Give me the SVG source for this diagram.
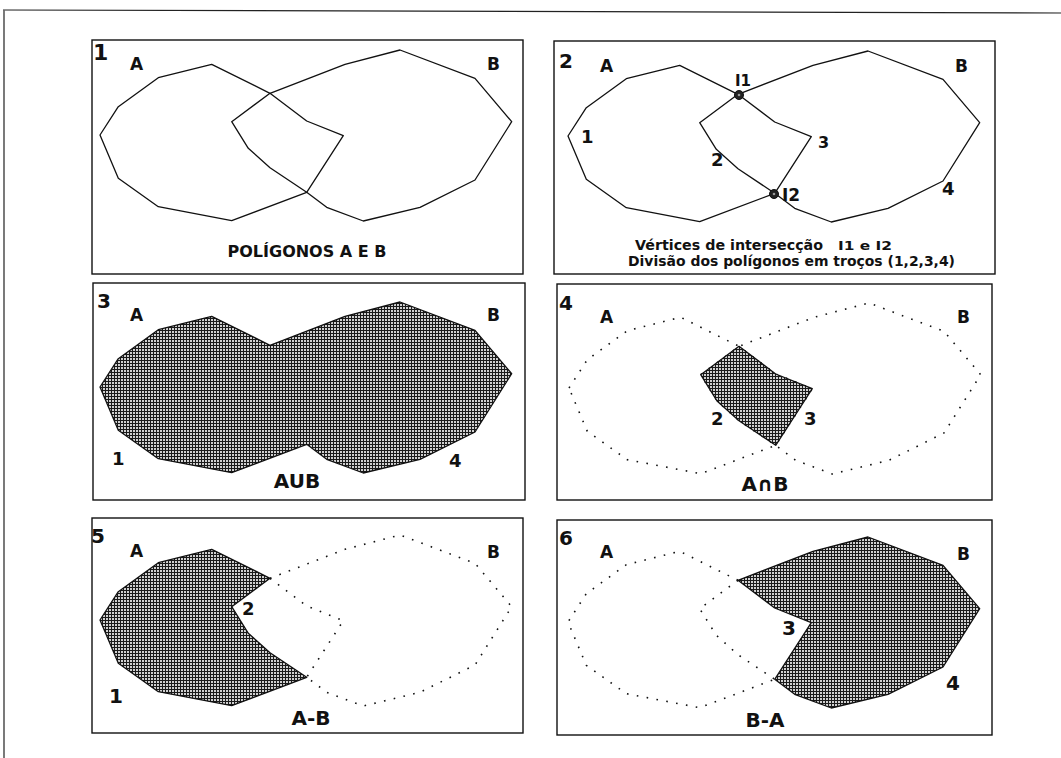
<svg xmlns="http://www.w3.org/2000/svg" xmlns:xlink="http://www.w3.org/1999/xlink" width="1061" height="758" viewBox="0 0 1061 758">
<style>
.frame{fill:none;stroke:#222;stroke-width:1.2}
.box{fill:#fff;stroke:#111;stroke-width:1.4}
.ln{fill:none;stroke:#111;stroke-width:1.3;stroke-linejoin:round}
.dot{fill:none;stroke:#111;stroke-width:1.6;stroke-dasharray:1.6 8.4}
.sh{fill:url(#hatch);stroke:#111;stroke-width:1.3;stroke-linejoin:round}
text{font-family:"DejaVu Sans","Liberation Sans",sans-serif;font-weight:bold;fill:#111}
.pn{font-size:20px}
.ab{font-size:17px}
.nm{font-size:18px}
.res{font-size:20px;text-anchor:middle}
.cap{font-size:16px;text-anchor:middle}
.cap2{font-size:14px}
</style>
<defs>
<pattern id="hatch" width="3" height="3" patternUnits="userSpaceOnUse">
<rect width="3" height="3" fill="#1a1a1a"/>
<rect x="1" y="1" width="2" height="2" fill="#d0d0d0"/>
</pattern>
<polygon id="pA" points="100,135 118.3,106.7 158.3,77.7 211.7,64.3 270,93.3 306.7,121 343.3,135.7 306.7,192.3 231.7,220.7 158.3,206.7 118.3,178.3"/>
<polygon id="pB" points="231.7,121.7 270,93.3 345,64.3 400,50 475,78.3 511.7,121.7 475,180 420,207.3 363.3,221 326.7,207.3 306.7,192.3 270,167.7 248.3,148.3"/>
<polygon id="pU" points="270,93.3 345,64.3 400,50 475,78.3 511.7,121.7 475,180 420,207.3 363.3,221 326.7,207.3 306.7,192.3 231.7,220.7 158.3,206.7 118.3,178.3 100,135 118.3,106.7 158.3,77.7 211.7,64.3"/>
<polygon id="pI" points="270,93.3 231.7,121.7 248.3,148.3 270,167.7 306.7,192.3 343.3,135.7 306.7,121"/>
<polygon id="pAmB" points="270,93.3 231.7,121.7 248.3,148.3 270,167.7 306.7,192.3 231.7,220.7 158.3,206.7 118.3,178.3 100,135 118.3,106.7 158.3,77.7 211.7,64.3"/>
<polygon id="pBmA" points="270,93.3 345,64.3 400,50 475,78.3 511.7,121.7 475,180 420,207.3 363.3,221 326.7,207.3 306.7,192.3 343.3,135.7 306.7,121"/>
<polyline id="lBout" points="270,93.3 345,64.3 400,50 475,78.3 511.7,121.7 475,180 420,207.3 363.3,221 326.7,207.3 306.7,192.3"/>
<polyline id="lAin" points="270,93.3 306.7,121 343.3,135.7 306.7,192.3"/>
<polyline id="lAout" points="270,93.3 211.7,64.3 158.3,77.7 118.3,106.7 100,135 118.3,178.3 158.3,206.7 231.7,220.7 306.7,192.3"/>
<polyline id="lBin" points="270,93.3 231.7,121.7 248.3,148.3 270,167.7 306.7,192.3"/>
</defs>

<path class="frame" d="M3,10 L1061,13 M4,10 L4,758"/>

<g id="panel1">
<rect class="box" x="92" y="40" width="431" height="234"/>
<use xlink:href="#pA" class="ln"/>
<use xlink:href="#pB" class="ln"/>
<text class="pn" x="93" y="60" style="font-size:22px">1</text>
<text class="ab" x="130" y="70">A</text>
<text class="ab" x="487" y="70">B</text>
<text class="cap" x="307" y="257">POLÍGONOS A E B</text>
</g>

<g id="panel2">
<rect class="box" x="554" y="41" width="441" height="233"/>
<g transform="translate(468,1)">
<use xlink:href="#pA" class="ln"/>
<use xlink:href="#pB" class="ln"/>
</g>
<circle cx="739" cy="95" r="4.5" fill="#222" stroke="#111" stroke-width="1"/>
<circle cx="739" cy="95" r="1.3" fill="#999"/>
<circle cx="774" cy="194" r="4.5" fill="#222" stroke="#111" stroke-width="1"/>
<circle cx="774" cy="194" r="1.3" fill="#999"/>
<text class="pn" x="559" y="68">2</text>
<text class="ab" x="600" y="72">A</text>
<text class="ab" x="955" y="72">B</text>
<text x="735" y="86" style="font-size:15px">I1</text>
<text x="782" y="201" style="font-size:17px">I2</text>
<text class="nm" x="581" y="143">1</text>
<text class="nm" x="711" y="166">2</text>
<text class="nm" x="818" y="148" style="font-size:16px">3</text>
<text class="nm" x="942" y="195">4</text>
<text class="cap2" x="635" y="250" textLength="188" lengthAdjust="spacingAndGlyphs">Vértices de intersecção</text>
<text x="838" y="250" style="font-size:12px" textLength="54" lengthAdjust="spacingAndGlyphs">I1 e I2</text>
<text class="cap2" x="628" y="266" textLength="327" lengthAdjust="spacingAndGlyphs">Divisão dos polígonos em troços (1,2,3,4)</text>
</g>

<g id="panel3">
<rect class="box" x="93" y="283" width="432" height="217"/>
<g transform="translate(0,252)">
<use xlink:href="#pU" class="sh"/>
</g>
<text class="pn" x="97" y="308">3</text>
<text class="ab" x="130" y="321">A</text>
<text class="ab" x="487" y="321">B</text>
<text class="nm" x="112" y="465">1</text>
<text class="nm" x="449" y="467">4</text>
<text class="res" x="297" y="488">AUB</text>
</g>

<g id="panel4">
<rect class="box" x="557" y="284" width="435" height="216"/>
<g transform="translate(469,253)">
<use xlink:href="#pA" class="dot"/>
<use xlink:href="#pB" class="dot"/>
<use xlink:href="#pI" class="sh"/>
</g>
<text class="pn" x="559" y="310">4</text>
<text class="ab" x="600" y="323">A</text>
<text class="ab" x="957" y="323">B</text>
<text class="nm" x="711" y="425">2</text>
<text class="nm" x="804" y="425">3</text>
<text class="res" x="765" y="491">A∩B</text>
</g>

<g id="panel5">
<rect class="box" x="92" y="518" width="431" height="215"/>
<g transform="translate(0,485)">
<use xlink:href="#lBout" class="dot"/>
<use xlink:href="#lAin" class="dot"/>
<use xlink:href="#pAmB" class="sh"/>
</g>
<text class="pn" x="91" y="543">5</text>
<text class="ab" x="130" y="557">A</text>
<text class="ab" x="487" y="558">B</text>
<text class="nm" x="242" y="615">2</text>
<text class="nm" x="109" y="703" style="font-size:20px">1</text>
<text class="res" x="311" y="725">A-B</text>
</g>

<g id="panel6">
<rect class="box" x="557" y="520" width="435" height="215"/>
<g transform="translate(468,487)">
<use xlink:href="#lAout" class="dot"/>
<use xlink:href="#lBin" class="dot"/>
<use xlink:href="#pBmA" class="sh"/>
</g>
<text class="pn" x="559" y="545">6</text>
<text class="ab" x="600" y="558">A</text>
<text class="ab" x="957" y="560">B</text>
<text class="nm" x="782" y="635" style="font-size:20px">3</text>
<text class="nm" x="946" y="690" style="font-size:20px">4</text>
<text class="res" x="765" y="727">B-A</text>
</g>
</svg>
